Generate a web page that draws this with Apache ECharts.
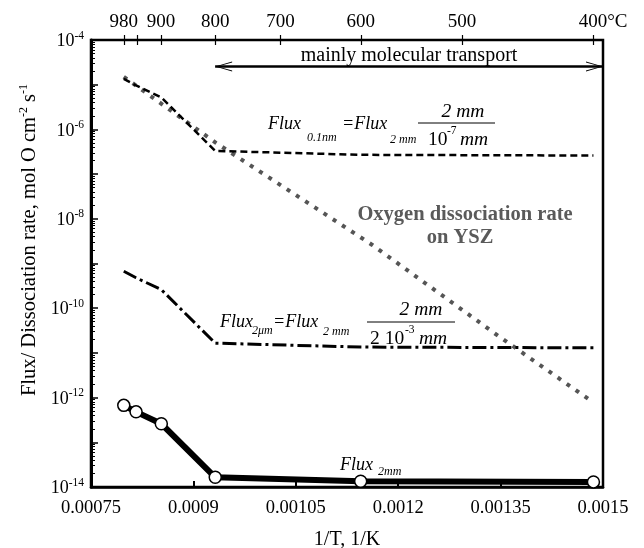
<!DOCTYPE html>
<html><head><meta charset="utf-8">
<script src="https://cdn.jsdelivr.net/npm/echarts@6/dist/echarts.min.js"></script>
<style>html,body{margin:0;padding:0;background:#fff}#c{width:644px;height:548px}</style>
</head><body><div id="c"></div>
<script>
// ---- data ----
const invTFlux = [0.000798, 0.000816, 0.000853, 0.000932, 0.001145, 0.001486];
const flux2mm  = [6.7e-13, 4.8e-13, 2.6e-13, 1.65e-14, 1.35e-14, 1.3e-14];
const flux2um  = [6.7e-10, 4.8e-10, 2.6e-10, 1.65e-11, 1.35e-11, 1.3e-11];
const flux01nm = [1.35e-5, 9.6e-6, 5.2e-6, 3.3e-7, 2.7e-7, 2.6e-7];
const invTDiss = [0.000798, 0.000933, 0.001162, 0.001345, 0.001480];
const dissRate = [1.5e-5, 5.0e-7, 2.6e-9, 2.5e-11, 9.0e-13];
const topTickC  = [980, 950, 900, 800, 700, 600, 500, 400];
const topLabelC = [980, 900, 800, 700, 600, 500, 400];
const yMinExp = -14, yMaxExp = -4;
const boundaryC = 800;
const arrowY = 2.55e-5;

const K = c => 1 / (c + 273.15);
const zip = (xs, ys) => xs.map((x, i) => [x, ys[i]]);
const minorExp = [];
for (let e = yMinExp; e < yMaxExp; e++) for (let m = 2; m <= 9; m++) minorExp.push(e + Math.log10(m));

const SERIF = 'Liberation Serif';
const chart = echarts.init(document.getElementById('c'), null, {renderer: 'canvas'});

function txt(x, y, s, size, opts) {
  opts = opts || {};
  return {type: 'text', x: x, y: y, z: 100, silent: true,
    style: {text: s, fontSize: size, fontFamily: SERIF,
      fontStyle: opts.italic ? 'italic' : 'normal',
      fontWeight: opts.bold ? 'bold' : 'normal',
      fill: opts.color || '#000', align: opts.align || 'left', verticalAlign: 'middle'}};
}
function bar(x1, x2, y) {
  return {type: 'line', z: 100, silent: true, shape: {x1: x1, y1: y, x2: x2, y2: y}, style: {stroke: '#000', lineWidth: 1}};
}
const expAxis = extra => Object.assign({type: 'value', position: 'left', min: yMinExp, max: yMaxExp,
  axisLine: {show: false}, splitLine: {show: false}, axisTick: {show: false}, axisLabel: {show: false}}, extra);

const chev = 'path://M0,16 L5,0 L10,16 L9,16 L5,2.5 L1,16 Z';

const option = {
  animation: false,
  backgroundColor: '#fff',
  grid: {left: 91, right: 41, top: 40, bottom: 61, show: true, borderColor: '#000', borderWidth: 2.5, outerBoundsMode: 'none'},
  xAxis: [
    {type: 'value', position: 'bottom', min: 0.00075, max: 0.0015, interval: 0.00015,
      axisLine: {show: true, lineStyle: {color: '#000', width: 2.5}},
      axisTick: {show: true, inside: true, length: 6, lineStyle: {color: '#000', width: 2}},
      splitLine: {show: false},
      axisLabel: {margin: 12, color: '#000', fontSize: 18.5, fontFamily: SERIF,
        formatter: v => String(+v.toFixed(5))},
      name: '1/T, 1/K', nameLocation: 'middle', nameGap: 43,
      nameTextStyle: {color: '#000', fontSize: 20, fontFamily: SERIF}},
    {type: 'value', position: 'top', min: 0.00075, max: 0.0015,
      axisLine: {show: false},
      axisTick: {show: true, inside: false, length: 5, customValues: topTickC.map(K), lineStyle: {color: '#000', width: 1.2}},
      splitLine: {show: false},
      axisLabel: {show: true, margin: 8, color: '#000', fontSize: 19, fontFamily: SERIF,
        customValues: topLabelC.map(K),
        formatter: v => { const c = Math.round(1 / v - 273.15); return c === 400 ? '{sp|}400°C' : String(c); },
        rich: {sp: {width: 20}}}},
    {type: 'value', position: 'top', min: 0.00075, max: 0.0015,
      axisLine: {show: false},
      axisTick: {show: true, inside: true, length: 5, customValues: topTickC.map(K), lineStyle: {color: '#000', width: 1.2}},
      splitLine: {show: false}, axisLabel: {show: false}}
  ],
  yAxis: [
    {type: 'log', logBase: 10, min: Math.pow(10, yMinExp), max: Math.pow(10, yMaxExp),
      axisLine: {show: true, lineStyle: {color: '#000', width: 3}},
      axisTick: {show: false}, axisLabel: {show: false}, splitLine: {show: false}},
    expAxis({interval: 2,
      axisLabel: {show: true, margin: 7, color: '#000', fontFamily: SERIF,
        formatter: v => '{b|10}{s|' + v + '}',
        rich: {b: {fontSize: 18, fontFamily: SERIF, lineHeight: 21, verticalAlign: 'bottom', color: '#000'},
               s: {fontSize: 11.5, fontFamily: SERIF, verticalAlign: 'top', color: '#000'}}}}),
    expAxis({interval: 1,
      axisTick: {show: true, inside: true, length: 7, lineStyle: {color: '#000', width: 1.5}}}),
    expAxis({
      axisTick: {show: true, inside: true, length: 4, customValues: minorExp, lineStyle: {color: '#000', width: 1}}})
  ],
  series: [
    {name: 'dissociation', type: 'line', data: zip(invTDiss, dissRate), symbol: 'none', z: 2,
      lineStyle: {color: '#555', width: 4, type: [4, 7]}},
    {name: 'flux01nm', type: 'line', data: zip(invTFlux, flux01nm), symbol: 'none', z: 3,
      lineStyle: {color: '#000', width: 2.5, type: [7, 4]},
      markLine: {silent: true, animation: false, symbol: [chev, chev], symbolSize: [10, 17], symbolOffset: [[0, 8.5], [0, 8.5]],
        lineStyle: {color: '#000', width: 2.5, type: 'solid'},
        label: {show: true, position: 'insideMiddleTop', distance: 1, formatter: 'mainly molecular transport',
          color: '#000', fontSize: 20, fontFamily: SERIF},
        data: [[{coord: [K(boundaryC), arrowY]}, {coord: [0.0015, arrowY]}]]}},
    {name: 'flux2um', type: 'line', data: zip(invTFlux, flux2um), symbol: 'none', z: 3,
      lineStyle: {color: '#000', width: 3, type: [14, 4, 3, 4]}},
    {name: 'flux2mm', type: 'line', data: zip(invTFlux, flux2mm), z: 5,
      symbol: 'circle', symbolSize: 12, showSymbol: true,
      itemStyle: {color: '#fff', borderColor: '#000', borderWidth: 1.5},
      lineStyle: {color: '#000', width: 6},
      markLine: {silent: true, animation: false, symbol: 'none', label: {show: false},
        lineStyle: {color: '#000', width: 1, type: [4, 3]},
        data: [{xAxis: K(boundaryC)}]}}
  ],
  graphic: [
    {type: 'text', x: 29, y: 240, rotation: Math.PI / 2, z: 100, silent: true,
      style: {text: '{n|Flux/ Dissociation rate, mol O cm}{s|-2}{n| s}{s|-1}', align: 'center', verticalAlign: 'middle',
        rich: {n: {fontSize: 20.5, fontFamily: SERIF, lineHeight: 23, verticalAlign: 'bottom', fill: '#000'},
               s: {fontSize: 12, fontFamily: SERIF, verticalAlign: 'top', fill: '#000'}}}},

    txt(268, 124, 'Flux', 18, {italic: true}),
    txt(307, 138, '0.1nm', 12, {italic: true}),
    txt(342, 124, '=Flux', 18, {italic: true}),
    txt(390, 140, '2 mm', 12, {italic: true}),
    txt(463, 112, '2 mm', 19.5, {italic: true, align: 'center'}),
    bar(418, 495, 123),
    txt(428, 140, '10', 19.5),
    txt(447, 131, '-7', 11.5),
    txt(460, 140, 'mm', 19.5, {italic: true}),

    txt(465, 215, 'Oxygen dissociation rate', 20.5, {bold: true, color: '#5a5a5a', align: 'center'}),
    txt(460, 238, 'on YSZ', 20.5, {bold: true, color: '#5a5a5a', align: 'center'}),

    txt(220, 322, 'Flux', 18, {italic: true}),
    txt(252, 331, '2μm', 12, {italic: true}),
    txt(273, 322, '=Flux', 18, {italic: true}),
    txt(323, 332, '2 mm', 12, {italic: true}),
    txt(421, 310, '2 mm', 19.5, {italic: true, align: 'center'}),
    bar(367, 455, 322),
    txt(370, 339, '2 10', 19.5),
    txt(405, 330, '-3', 11.5),
    txt(419, 339, 'mm', 19.5, {italic: true}),

    txt(340, 465, 'Flux', 18, {italic: true}),
    txt(378, 472, '2mm', 12, {italic: true})
  ]
};
chart.setOption(option);
</script></body></html>
